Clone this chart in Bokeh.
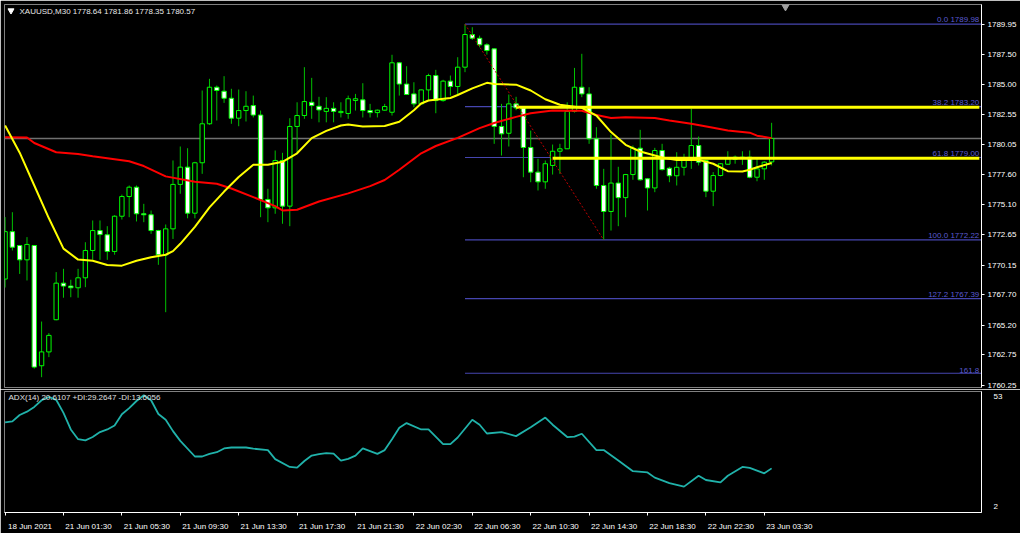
from bokeh.plotting import figure
from bokeh.layouts import column
from bokeh.models import Range1d, FixedTicker, PrintfTickFormatter, Label, ColumnDataSource, LinearAxis
from bokeh.embed import file_html
from bokeh.resources import INLINE
from bokeh.core.properties import value

# ---------------- data (XAUUSD M30) ----------------
opens = [1769.0, 1772.9, 1771.76, 1770.58, 1771.76, 1761.86, 1763.0, 1765.65, 1768.66, 1768.42,
         1768.28, 1769.1, 1771.35, 1772.99, 1772.64, 1771.27, 1774.17, 1775.79, 1776.56, 1774.37,
         1774.29, 1772.99, 1770.99, 1773.13, 1776.79, 1778.21, 1774.42, 1778.57, 1781.78, 1784.79,
         1784.46, 1783.88, 1782.24, 1782.87, 1783.28, 1782.5, 1775.55, 1774.86, 1778.76, 1775.0,
         1781.56, 1782.46, 1783.55, 1783.22, 1782.8, 1783.05, 1782.7, 1782.63, 1783.7, 1783.75,
         1782.87, 1782.7, 1782.9, 1782.73, 1786.8, 1785.05, 1784.24, 1783.42, 1784.57, 1785.75,
         1783.69, 1785.29, 1784.85, 1786.44, 1789.13, 1788.82, 1788.28, 1787.95, 1781.56, 1781.0,
         1783.42, 1783.09, 1779.83, 1777.8, 1777.0, 1778.35, 1779.52, 1779.72, 1782.8, 1784.79,
         1784.24, 1780.54, 1776.7, 1774.56, 1776.9, 1775.7, 1777.6, 1779.77, 1777.25, 1776.5,
         1779.58, 1778.12, 1777.5, 1778.2, 1778.76, 1779.99, 1778.76, 1776.23, 1777.52, 1778.45,
         1778.85, 1779.03, 1779.03, 1777.38, 1778.07, 1778.64]
highs = [1774.1, 1774.5, 1771.8, 1772.45, 1771.8, 1765.5, 1764.55, 1769.57, 1769.84, 1768.94,
         1769.84, 1772.03, 1773.82, 1773.82, 1773.35, 1774.25, 1775.95, 1776.7, 1776.7, 1775.19,
         1774.64, 1773.05, 1773.49, 1778.76, 1779.91, 1779.77, 1778.65, 1784.52, 1785.48, 1784.93,
         1785.7, 1784.66, 1784.6, 1784.46, 1784.1, 1782.87, 1776.43, 1779.58, 1779.39, 1782.24,
         1783.55, 1786.44, 1785.56, 1784.0, 1783.97, 1783.55, 1783.55, 1784.1, 1784.24, 1785.12,
         1783.42, 1782.95, 1783.42, 1787.46, 1786.85, 1786.52, 1785.2, 1784.6, 1785.9, 1786.22,
         1785.4, 1785.75, 1787.26, 1789.98, 1789.73, 1789.04, 1788.41, 1788.0, 1783.42, 1784.19,
         1784.0, 1783.15, 1781.22, 1778.9, 1778.76, 1780.07, 1780.13, 1783.55, 1786.38, 1787.54,
         1784.79, 1781.5, 1778.07, 1780.9, 1778.24, 1777.65, 1779.99, 1781.28, 1777.3, 1779.8,
         1780.13, 1778.24, 1779.44, 1779.31, 1783.01, 1780.73, 1778.8, 1777.8, 1778.55, 1779.52,
         1779.17, 1779.52, 1779.58, 1778.9, 1778.7, 1781.86]
lows = [1768.3, 1771.35, 1769.42, 1768.88, 1761.63, 1760.92, 1762.57, 1765.6, 1767.46, 1767.5,
        1767.46, 1768.33, 1770.58, 1770.58, 1770.58, 1771.0, 1773.9, 1774.09, 1773.74, 1773.68,
        1772.72, 1770.17, 1766.27, 1772.3, 1776.02, 1774.0, 1774.0, 1777.66, 1781.7, 1782.05,
        1783.5, 1781.78, 1781.58, 1781.97, 1782.3, 1774.09, 1773.68, 1774.37, 1773.55, 1773.35,
        1779.36, 1782.19, 1782.19, 1781.9, 1781.9, 1781.9, 1782.3, 1782.19, 1782.87, 1782.3,
        1782.3, 1782.3, 1782.85, 1782.46, 1784.1, 1784.15, 1783.14, 1783.4, 1783.69, 1782.65,
        1783.6, 1784.1, 1784.1, 1786.03, 1788.69, 1788.08, 1787.48, 1780.13, 1779.17, 1779.91,
        1782.9, 1777.38, 1776.97, 1776.29, 1776.43, 1777.6, 1777.66, 1779.7, 1782.7, 1783.97,
        1780.13, 1776.43, 1772.22, 1772.99, 1773.35, 1774.09, 1777.17, 1777.1, 1774.64, 1776.15,
        1777.93, 1776.97, 1776.7, 1777.52, 1778.07, 1778.35, 1775.74, 1775.0, 1777.45, 1778.4,
        1778.49, 1778.4, 1777.3, 1777.05, 1777.17, 1778.35]
closes = [1772.9, 1771.62, 1770.58, 1771.85, 1761.75, 1763.0, 1764.36, 1768.66, 1768.42, 1768.28,
          1769.1, 1771.35, 1772.99, 1772.66, 1771.27, 1774.17, 1775.79, 1776.56, 1774.37, 1774.29,
          1772.99, 1770.99, 1773.13, 1776.79, 1778.21, 1774.42, 1778.57, 1781.78, 1784.79, 1784.52,
          1783.88, 1782.24, 1782.87, 1783.22, 1782.5, 1775.55, 1774.86, 1778.76, 1775.0, 1781.56,
          1782.46, 1783.61, 1783.28, 1782.92, 1783.05, 1782.8, 1782.8, 1783.84, 1783.84, 1782.87,
          1782.7, 1782.9, 1783.2, 1786.8, 1785.05, 1784.19, 1783.42, 1784.57, 1785.75, 1783.69,
          1785.29, 1784.85, 1786.44, 1789.13, 1788.82, 1788.28, 1787.81, 1781.56, 1780.95, 1783.42,
          1783.09, 1779.83, 1777.8, 1777.0, 1778.49, 1779.52, 1779.72, 1782.8, 1784.79, 1784.24,
          1780.54, 1776.7, 1774.56, 1776.9, 1775.7, 1777.6, 1779.77, 1777.17, 1776.5, 1779.58,
          1778.01, 1777.5, 1778.2, 1778.76, 1779.99, 1778.62, 1776.23, 1777.52, 1778.49, 1778.9,
          1779.03, 1778.95, 1777.38, 1778.07, 1778.62, 1780.57]

ma_fast_bar = [0, 2, 4, 6, 8, 10, 12, 14, 16, 18, 20, 22, 23, 24, 26, 28, 30, 32, 34, 36, 38, 40,
               42, 44, 46, 47, 49, 52, 54, 56, 57, 58, 61, 62, 64, 66, 67, 70, 72, 74, 76, 79, 81,
               83, 85, 87, 90, 92, 95, 97, 99, 101, 102, 103, 105]
ma_fast_val = [1781.64, 1779.4, 1776.7, 1774.0, 1771.5, 1770.6, 1770.5, 1770.15, 1770.1, 1770.5,
               1770.8, 1771.0, 1771.3, 1771.9, 1773.3, 1774.9, 1776.2, 1777.4, 1778.4, 1778.4,
               1778.65, 1779.35, 1780.6, 1781.2, 1781.64, 1781.72, 1781.56, 1781.6, 1781.95,
               1782.9, 1783.45, 1783.7, 1783.9, 1784.15, 1784.7, 1785.15, 1785.05, 1785.0,
               1784.52, 1783.8, 1783.35, 1783.1, 1782.46, 1781.1, 1780.05, 1779.5, 1779.0,
               1778.8, 1778.81, 1778.49, 1777.88, 1777.85, 1778.0, 1778.2, 1778.55]
ma_slow_bar = [0, 3, 4, 7, 10, 12, 17, 19, 22, 26, 29, 31, 34, 37, 38, 40, 43, 47, 50, 52, 54, 57,
               59, 62, 65, 67, 70, 72, 75, 79, 81, 83, 85, 89, 91, 94, 97, 99, 102, 103, 105]
ma_slow_val = [1780.67, 1780.65, 1780.2, 1779.44, 1779.3, 1779.11, 1778.7, 1778.3, 1777.45, 1777.0,
               1776.84, 1776.45, 1775.74, 1775.0, 1774.65, 1774.7, 1775.38, 1776.05, 1776.65,
               1777.15, 1778.0, 1779.35, 1779.95, 1780.62, 1781.42, 1781.85, 1782.35, 1782.65,
               1782.87, 1782.85, 1782.5, 1782.25, 1782.32, 1782.25, 1782.05, 1781.78, 1781.45,
               1781.23, 1781.05, 1780.8, 1780.6]

adx_bar = [0, 1, 2, 3, 4, 5, 6, 7, 8, 9, 10, 11, 12, 13, 14, 15, 16, 17, 18, 19, 20, 21, 22, 23, 24,
           26, 27, 28, 29, 30, 31, 33, 34, 36, 37, 39, 40, 41, 42, 43, 44, 45, 46, 47, 48, 49, 51,
           52, 53, 54, 55, 57, 58, 60, 61, 62, 64, 65, 66, 68, 70, 72, 74, 75, 77, 78, 79, 81, 82,
           84, 86, 88, 89, 91, 93, 95, 96, 98, 99, 101, 102, 104, 105]
adx_val = [40.0, 40.4, 43.1, 44.5, 46.5, 49.3, 50.7, 49.5, 44.0, 37.0, 32.9, 32.4, 33.8, 35.9, 37.0,
           38.7, 43.4, 46.0, 49.0, 51.4, 49.3, 43.5, 41.1, 36.3, 32.2, 25.6, 25.6, 26.7, 27.4, 29.0,
           29.4, 29.4, 28.9, 28.3, 24.5, 21.2, 20.9, 23.7, 26.0, 26.6, 27.0, 26.8, 23.9, 24.6, 26.0,
           29.0, 26.7, 28.3, 32.9, 37.7, 39.7, 37.0, 37.0, 30.8, 30.8, 33.6, 41.1, 39.0, 35.3, 35.9,
           34.2, 37.9, 42.0, 39.0, 33.8, 34.0, 35.2, 28.3, 28.3, 23.9, 19.4, 18.9, 16.7, 14.4, 12.9,
           17.5, 15.7, 14.7, 17.5, 21.2, 20.8, 18.5, 20.6]

price_ticks = [1760.25, 1762.75, 1765.20, 1767.70, 1770.15, 1772.65, 1775.10, 1777.60,
               1780.05, 1782.55, 1785.00, 1787.50, 1789.95]
time_tick_bars = [0, 8, 16, 24, 32, 40, 48, 56, 64, 72, 80, 88, 96, 104]
time_tick_labels = ["18 Jun 2021", "21 Jun 01:30", "21 Jun 05:30", "21 Jun 09:30", "21 Jun 13:30",
                    "21 Jun 17:30", "21 Jun 21:30", "22 Jun 02:30", "22 Jun 06:30", "22 Jun 10:30",
                    "22 Jun 14:30", "22 Jun 18:30", "22 Jun 22:30", "23 Jun 03:30"]

fib_high, fib_low = 1789.98, 1772.22
fib_high_bar, fib_low_bar = 63, 82
fib_ratios = [0.0, 0.382, 0.618, 1.0, 1.272, 1.618]
fib_names = ["0.0", "38.2", "61.8", "100.0", "127.2", "161.8"]
fib_show_price = [True, True, True, True, True, False]

hline_levels = [1783.15, 1778.95]
hline_start = [70, 75]
bid_price = 1780.57
header_text = "XAUUSD,M30  1778.64 1781.86 1778.35 1780.57"
adx_text = "ADX(14) 20.6107 +DI:29.2647 -DI:13.6056"
adx_max, adx_min = 53, 2

# ---------------- styling ----------------
FONT = "Liberation Sans"
X0, X1 = -0.08, 133.75
Y0, Y1 = 1760.07, 1791.60
FIB_LINE = "#4646B0"
FIB_TEXT = "#5A5AD0"
GREEN = "#00FF00"
WICK = "#00C000"
LABEL_SHIFT = 3.42   # time labels start just right of their tick (MT4 style)

xr = Range1d(X0, X1)
bars = list(range(len(opens)))

p1 = figure(width=1020, height=389, x_range=xr, y_range=Range1d(Y0, Y1),
            y_axis_location="right", x_axis_location=None,
            output_backend="svg", toolbar_location=None,
            background_fill_color="black", border_fill_color="black",
            min_border_left=4, min_border_right=39, min_border_top=4, min_border_bottom=2)
p1.outline_line_color = "#808080"
p1.xgrid.visible = False
p1.ygrid.visible = False
ya = p1.yaxis[0]
ya.ticker = FixedTicker(ticks=price_ticks)
ya.formatter = PrintfTickFormatter(format="%.2f")
ya.axis_line_color = "white"
ya.major_tick_line_color = "white"
ya.major_tick_out = 3
ya.major_tick_in = 0
ya.minor_tick_line_color = None
ya.major_label_text_color = "white"
ya.major_label_text_font = FONT
ya.major_label_text_font_size = "8px"
ya.major_label_standoff = 3

# bid line
p1.segment(x0=[X0], y0=[bid_price], x1=[X1], y1=[bid_price], line_color="#707070", line_width=1.5)

# fibonacci levels
fib_levels = [fib_high - r * (fib_high - fib_low) for r in fib_ratios]
fib_labels = [f"{n} {lv:.2f}" if s else n for n, lv, s in zip(fib_names, fib_levels, fib_show_price)]
p1.segment(x0=[fib_high_bar] * len(fib_levels), y0=fib_levels, x1=[X1] * len(fib_levels), y1=fib_levels,
           line_color=FIB_LINE, line_width=1.2)

# candles
body_top = [max(o, c) for o, c in zip(opens, closes)]
body_bot = [min(o, c) for o, c in zip(opens, closes)]
body_fill = ["black" if c >= o else "white" for o, c in zip(opens, closes)]
src = ColumnDataSource(dict(x=bars, o=opens, h=highs, l=lows, c=closes,
                            top=body_top, bot=body_bot, fill=body_fill))
p1.segment(x0="x", y0="l", x1="x", y1="h", source=src, line_color=WICK, line_width=1)
p1.vbar(x="x", top="top", bottom="bot", width=0.6, source=src,
        fill_color="fill", line_color=GREEN, line_width=1)

# moving averages
p1.line(ma_slow_bar, ma_slow_val, line_color="#FF0000", line_width=2)
p1.line(ma_fast_bar, ma_fast_val, line_color="#FFFF00", line_width=2)

# yellow horizontal lines
p1.segment(x0=hline_start, y0=hline_levels, x1=[X1 - 0.3] * len(hline_levels), y1=hline_levels,
           line_color="#FFFF00", line_width=3)

# fib trend line
p1.line([fib_high_bar, fib_low_bar], [fib_high, fib_low], line_color="#C00000",
        line_width=1, line_dash="2 2")

# fib labels
p1.text(x=[X1 - 0.3] * len(fib_levels), y=fib_levels, text=fib_labels,
        text_align="right", text_baseline="bottom", text_color=FIB_TEXT,
        text_font=value(FONT), text_font_size="8px")

# header
p1.scatter([0.81], [Y1 - 0.5], marker="inverted_triangle", size=6, color="white")
p1.add_layout(Label(x=1.97, y=Y1 - 0.2, text=header_text, text_baseline="top",
                    text_color="#E8E8E8", text_font=FONT, text_font_size="8px"))
p1.scatter([106.9], [Y1 - 0.1], marker="inverted_triangle", size=9, color="#A0A0A0")

# ---------------- ADX panel ----------------
p2 = figure(width=1020, height=144, x_range=xr, y_range=Range1d(adx_min, adx_max),
            y_axis_location="right", output_backend="svg", toolbar_location=None,
            background_fill_color="black", border_fill_color="black",
            min_border_left=4, min_border_right=39, min_border_top=2, min_border_bottom=18)
p2.outline_line_color = "#808080"
p2.xgrid.visible = False
p2.ygrid.visible = False
p2.line(adx_bar, adx_val, line_color="#20B2AA", line_width=1.8)
p2.add_layout(Label(x=0.47, y=52.2, text=adx_text, text_baseline="top",
                    text_color="#E0E0E0", text_font=FONT, text_font_size="8px"))

# MT4 prints the scale extremes just inside the window edges
ya2 = p2.yaxis[0]
ya2.ticker = FixedTicker(ticks=[50.9, 4.5])
ya2.major_label_overrides = {50.9: str(adx_max), 4.5: str(adx_min)}
ya2.axis_line_color = "white"
ya2.major_tick_line_color = None
ya2.minor_tick_line_color = None
ya2.major_label_text_color = "white"
ya2.major_label_text_font = FONT
ya2.major_label_text_font_size = "8px"
ya2.major_label_standoff = 6

# time axis: tick marks on the primary axis, labels on a second axis placed right of each tick
xa = p2.xaxis[0]
xa.ticker = FixedTicker(ticks=time_tick_bars)
xa.axis_line_color = "white"
xa.major_tick_line_color = "white"
xa.major_tick_out = 3
xa.major_tick_in = 0
xa.minor_tick_line_color = None
xa.major_label_text_color = None
xa.major_label_text_font_size = "1px"
xa.major_label_standoff = 0

label_pos = [b + LABEL_SHIFT for b in time_tick_bars]
xl = LinearAxis(ticker=FixedTicker(ticks=label_pos),
                major_label_overrides={lp: t for lp, t in zip(label_pos, time_tick_labels)},
                axis_line_color=None, major_tick_line_color=None, minor_tick_line_color=None,
                major_label_text_color="white", major_label_text_font=FONT,
                major_label_text_font_size="8px", major_label_standoff=0)
p2.add_layout(xl, "below")

layout = column(p1, p2, spacing=0)
open("out.html", "w").write(file_html(layout, INLINE))
